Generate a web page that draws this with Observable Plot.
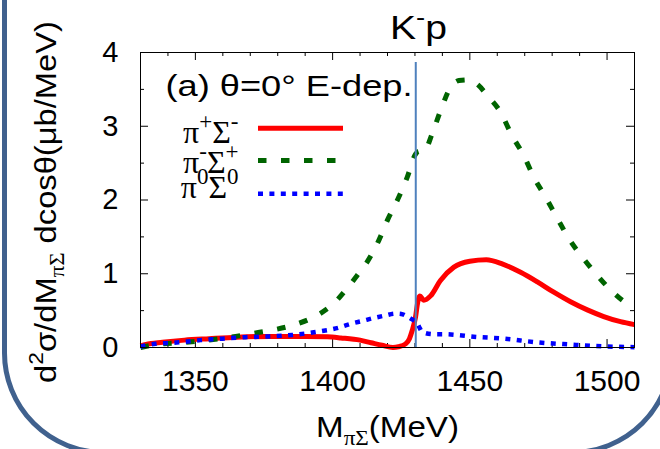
<!DOCTYPE html>
<html><head><meta charset="utf-8">
<script src="https://cdn.jsdelivr.net/npm/d3@7"></script>
<script src="https://cdn.jsdelivr.net/npm/@observablehq/plot@0.6"></script>
<style>
html,body{margin:0;padding:0;background:#fff;}
#wrap{position:relative;width:660px;height:449px;overflow:hidden;background:#fff;}
#border{position:absolute;left:1.5px;top:-200px;width:672px;height:654.5px;box-sizing:border-box;border:5px solid #40618e;border-radius:102px;pointer-events:none;}
</style></head><body>
<div id="wrap"><div id="chart"></div><div id="border"></div></div>
<script>
// ---- data ----
const xDomain = [1330, 1510];
const yDomain = [0, 4];
const xTicks = [1350, 1400, 1450, 1500];
const xMinorTicks = [1340, 1360, 1370, 1380, 1390, 1410, 1420, 1430, 1440, 1460, 1470, 1480, 1490];
const yTicks = [0, 1, 2, 3, 4];
const yMinorTicks = [0.5, 1.5, 2.5, 3.5];
const threshold = 1430.3;

const redM = [1330,1332,1338,1346,1355,1365,1377,1390,1398,1403,1410,1414,1418,1422,1424,1426.6,1428,1429,1430.2,1431,1431.8,1433.2,1435.7,1439.3,1444.2,1450,1456,1462,1468.5,1474.6,1480.6,1486.7,1492.8,1498.8,1504.9,1510];
const redV = [0.02,0.04,0.07,0.10,0.12,0.14,0.15,0.15,0.145,0.13,0.10,0.065,0.03,0.0,0.01,0.05,0.12,0.23,0.41,0.61,0.70,0.64,0.70,0.91,1.09,1.17,1.19,1.13,1.02,0.89,0.75,0.62,0.51,0.42,0.35,0.31];

const greenM = [1330,1334,1338.5,1345.8,1354.3,1362.8,1370.7,1378.6,1387.1,1395,1401,1405,1409,1412.6,1416.8,1419.9,1423.5,1427.2,1430.2,1431.5,1433.2,1436.3,1439.3,1443,1446,1449.6,1453,1456.3,1461.2,1465.4,1469.7,1473.3,1477.6,1481.9,1486.2,1491.1,1496.6,1502.1,1509.4,1510];
const greenV = [0.0,0.03,0.05,0.07,0.10,0.14,0.19,0.24,0.32,0.45,0.62,0.79,0.98,1.16,1.45,1.72,1.99,2.31,2.62,2.66,2.66,2.90,3.21,3.53,3.62,3.63,3.56,3.42,3.19,2.87,2.60,2.31,2.04,1.75,1.47,1.22,0.97,0.75,0.55,0.54];

const blueM = [1330,1331,1335.5,1344,1351.9,1359.8,1368.3,1376.8,1385.3,1393.8,1402.3,1406.5,1410.8,1415,1418.7,1422.9,1425,1427.2,1429,1430.8,1431.8,1432.6,1436.9,1441.1,1445.4,1450.3,1462.4,1474.6,1486.7,1498.8,1510];
const blueV = [0.01,0.02,0.05,0.07,0.10,0.12,0.14,0.15,0.17,0.21,0.27,0.32,0.36,0.40,0.43,0.46,0.455,0.42,0.38,0.33,0.26,0.21,0.18,0.18,0.17,0.15,0.12,0.07,0.04,0.015,0.005];

const titleParts = [["K",""],["-","sup"],["p",""]];
const headerText = "(a) θ=0° E-dep.";
const legendParts = [
  [["π",""],["+","sup"],["Σ",""],["-","sup"]],
  [["π",""],["-","sup"],["Σ",""],["+","sup"]],
  [["π",""],["0","sup"],["Σ",""],["0","sup"]]
];
const yLabelParts = [["d",""],["2","sup"],["σ/dM",""],["πΣ","sub"],[" dcosθ(μb/MeV)",""]];
const xLabelParts = [["M",""],["πΣ","sub"],["(MeV)",""]];
const colors = ["#ff0000", "#006400", "#0000ff"];

const plain = parts => parts.map(p => p[0]).join("");
const toRows = (M, V) => M.map((m, i) => ({m, v: V[i]}));

const W = 660, H = 449, mL = 140, mR = 26, mT = 52, mB = 102;
const pw = W - mL - mR, ph = H - mT - mB;
const sans = "Liberation Sans, Arial, sans-serif";
const serif = "Liberation Serif, Times New Roman, serif";

const dashG = "8.5,14.5", dotB = "5,6.4";

const chart = Plot.plot({
  width: W, height: H,
  marginLeft: mL, marginRight: mR, marginTop: mT, marginBottom: mB,
  x: {domain: xDomain},
  y: {domain: yDomain},
  style: {fontFamily: sans, background: "#fff", color: "#000", overflow: "visible"},
  marks: [
    // ticks (inward)
    Plot.ruleX(xMinorTicks, {stroke: "#000", insetTop: ph - 4}),
    Plot.ruleX(xMinorTicks, {stroke: "#000", insetBottom: ph - 4}),
    Plot.ruleX(xTicks, {stroke: "#000", insetTop: ph - 8}),
    Plot.ruleX(xTicks, {stroke: "#000", insetBottom: ph - 8}),
    Plot.ruleY(yMinorTicks, {stroke: "#000", insetRight: pw - 4}),
    Plot.ruleY(yMinorTicks, {stroke: "#000", insetLeft: pw - 4}),
    Plot.ruleY(yTicks, {stroke: "#000", insetRight: pw - 8}),
    Plot.ruleY(yTicks, {stroke: "#000", insetLeft: pw - 8}),
    Plot.axisX({ticks: xTicks, tickSize: 0, tickPadding: 22, fontSize: 30, tickFormat: d3.format("d"), label: null}),
    Plot.axisY({ticks: yTicks, tickSize: 0, tickPadding: 22, fontSize: 29, tickFormat: d3.format("d"), label: null}),
    // curves
    Plot.line(toRows(redM, redV), {x: "m", y: "v", stroke: colors[0], strokeWidth: 5, curve: "monotone-x", strokeLinecap: "butt"}),
    Plot.line(toRows(greenM, greenV), {x: "m", y: "v", stroke: colors[1], strokeWidth: 5, curve: "monotone-x", strokeDasharray: dashG, strokeLinecap: "butt"}),
    Plot.line(toRows(blueM, blueV), {x: "m", y: "v", stroke: colors[2], strokeWidth: 4.5, curve: "monotone-x", strokeDasharray: dotB, strokeLinecap: "butt"}),
    Plot.ruleX([threshold], {stroke: "#4f81bd", strokeWidth: 2, insetTop: 10}),
    Plot.frame({stroke: "#000", strokeWidth: 1}),
    // legend
    Plot.text([headerText], {frameAnchor: "top-left", dx: 25, dy: 43, textAnchor: "start", lineAnchor: "bottom", fontSize: 29, fill: "#000"}),
    Plot.text([plain(legendParts[0])], {frameAnchor: "top-left", dx: 98, dy: 90, textAnchor: "end", lineAnchor: "bottom", fontSize: 32, fontFamily: serif, fill: "#000"}),
    Plot.text([plain(legendParts[1])], {frameAnchor: "top-left", dx: 98, dy: 120, textAnchor: "end", lineAnchor: "bottom", fontSize: 32, fontFamily: serif, fill: "#000"}),
    Plot.text([plain(legendParts[2])], {frameAnchor: "top-left", dx: 98, dy: 145, textAnchor: "end", lineAnchor: "bottom", fontSize: 32, fontFamily: serif, fill: "#000"}),
    Plot.ruleY([yDomain[1]], {stroke: colors[0], strokeWidth: 5, insetLeft: 118, insetRight: 291, dy: 75.7}),
    Plot.ruleY([yDomain[1]], {stroke: colors[1], strokeWidth: 5, insetLeft: 118, insetRight: 291, dy: 108, strokeDasharray: dashG}),
    Plot.ruleY([yDomain[1]], {stroke: colors[2], strokeWidth: 4.5, insetLeft: 118, insetRight: 291, dy: 141.3, strokeDasharray: dotB}),
    // titles
    Plot.text([plain(titleParts)], {frameAnchor: "top", dx: 31, dy: -14, textAnchor: "middle", lineAnchor: "bottom", fontSize: 33, fill: "#000"}),
    Plot.text([plain(xLabelParts)], {frameAnchor: "bottom", dx: 0, dy: 89, textAnchor: "middle", lineAnchor: "bottom", fontSize: 29, fill: "#000"}),
    Plot.text([plain(yLabelParts)], {frameAnchor: "left", dx: -85, dy: 2, rotate: -90, textAnchor: "middle", lineAnchor: "bottom", fontSize: 29, fill: "#000"})
  ]
});
document.getElementById("chart").appendChild(chart);

// rich text: superscripts / subscripts, optional stretch to a measured width
function findText(key) {
  return d3.select(chart).selectAll("text").filter(function() { return this.textContent === key; });
}
function stretch(sel, len) {
  sel.attr("textLength", len).attr("lengthAdjust", "spacingAndGlyphs");
}
function richify(parts, size, len, scale = 0.7) {
  const sel = findText(plain(parts));
  sel.each(function() {
    const t = d3.select(this);
    t.text(null);
    let cur = 0;
    for (const [s, kind] of parts) {
      const target = kind === "sup" ? 0.42 * size : kind === "sub" ? -0.28 * size : 0;
      const ts = t.append("tspan").text(s).attr("dy", (cur - target).toFixed(2));
      if (kind) ts.attr("font-size", (size * scale).toFixed(1));
      if (/[πΣ]/.test(s) && kind === "sub") ts.attr("font-family", serif);
      cur = target;
    }
  });
  if (len) stretch(sel, len);
}
richify(titleParts, 33, 57);
richify(xLabelParts, 29, 143);
richify(yLabelParts, 29, 362);
legendParts.forEach(p => richify(p, 32, 0, 0.72));
stretch(findText(headerText), 247);
</script>
</body></html>
